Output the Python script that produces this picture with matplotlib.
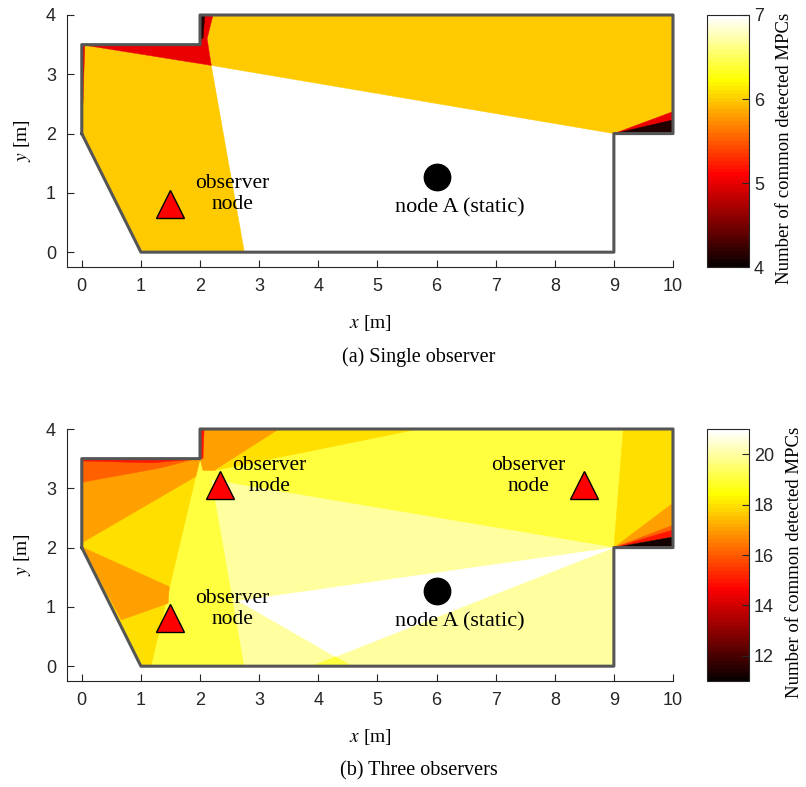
import numpy as np
import matplotlib
matplotlib.use('Agg')
import matplotlib.pyplot as plt
from matplotlib.colors import ListedColormap, Normalize
from matplotlib.collections import PolyCollection

plt.rcParams['font.family'] = ['Liberation Sans', 'DejaVu Sans']
plt.rcParams['mathtext.fontset'] = 'stix'

SERIF = ['Liberation Serif', 'DejaVu Serif']

# 房间轮廓
ROOM = [(0, 2), (0, 3.5), (2, 3.5), (2, 4), (10, 4), (10, 2), (9, 2), (9, 0), (1, 0), (0, 2)]

# (a) 单观测者：区域多边形 + 共同 MPC 数
A_VERTS = [
    [(0, 2), (0, 3.5), (2, 3.5), (2, 4), (10, 4), (10, 2), (9, 2), (9, 0), (1, 0)],
    [(0, 2), (0, 3.45), (0.05, 3.49), (2.19, 3.15), (2.75, 0), (1, 0)],
    [(2.19, 3.15), (2.12, 3.6), (2.22, 4), (10, 4), (10, 2.37), (9, 2)],
    [(0, 3.5), (2, 3.5), (2, 4), (2.22, 4), (2.12, 3.6), (2.19, 3.15), (0.05, 3.49)],
    [(0, 3.5), (0.05, 3.49), (0.02, 2.5), (0, 2.5)],
    [(2, 3.6), (2, 4), (2.08, 4), (2.05, 3.6)],
    [(9, 2), (10, 2.37), (10, 2)],
    [(9, 2), (10, 2.23), (10, 2)],
]
A_VALUES = [7, 6, 6, 5, 5, 4.1, 5, 4.1]
A_OBS_X = [1.5]
A_OBS_Y = [0.81]

# (b) 三个观测者
B_VERTS = [
    [(0, 2), (0, 3.5), (2, 3.5), (2, 4), (10, 4), (10, 2), (9, 2), (9, 0), (1, 0)],
    [(0, 2), (0, 3.5), (2, 3.5), (1.17, 0), (1, 0)],
    [(0, 2.08), (0, 3.1), (1.32, 3.34), (1.97, 3.5), (2.0, 3.5), (1.93, 3.2)],
    [(0, 3.5), (1.95, 3.5), (1.32, 3.34), (0, 3.1)],
    [(0, 3.5), (2, 3.5), (1.2, 3.43), (0, 3.46)],
    [(0, 2.01), (1.48, 1.34), (1.46, 1.06), (0.67, 0.78)],
    [(2.0, 3.5), (2.0, 4), (3.35, 4), (2.25, 3.3), (2.05, 3.3)],
    [(3.35, 4), (5.7, 4), (2.25, 3.3)],
    [(2, 3.5), (2, 4), (2.07, 4), (2.05, 3.5)],
    [(2.2, 3.14), (9, 2), (9, 0), (2.75, 0)],
    [(9, 2), (2.65, 1.1), (4.29, 0.16)],
    [(3.88, 0), (4.29, 0.16), (4.57, 0)],
    [(9, 2), (9.16, 4), (10, 4), (10, 2.75)],
    [(9, 2), (10, 2.75), (10, 2.38)],
    [(9, 2), (10, 2.38), (10, 2.3)],
    [(9, 2), (10, 2.3), (10, 2.18)],
    [(9, 2), (10, 2.18), (10, 2)],
]
B_VALUES = [19, 18, 17, 16, 15, 17, 17, 18, 15, 20, 21, 19, 18, 17, 16, 15, 11.3]
B_OBS_X = [1.5, 2.33, 8.5]
B_OBS_Y = [0.82, 3.06, 3.06]

NODE_A = (6.0, 1.26)

# MATLAB 的 hot(64)
m, n = 64, 24
r = np.r_[np.arange(1, n + 1) / n, np.ones(m - n)]
g = np.r_[np.zeros(n), np.arange(1, n + 1) / n, np.ones(m - 2 * n)]
b = np.r_[np.zeros(2 * n), np.arange(1, m - 2 * n + 1) / (m - 2 * n)]
hot = ListedColormap(np.c_[r, g, b])

W, H = 806, 787
fig = plt.figure(figsize=(W / 100, H / 100), dpi=100)


def draw_panel(top_px, verts, values, vmin, vmax, ticks, obs_x, obs_y, obs_text, caption):
    ax = fig.add_axes([67 / W, 1 - (top_px + 252) / H, 606 / W, 252 / H])
    cax = fig.add_axes([707 / W, 1 - (top_px + 252) / H, 42 / W, 252 / H])

    pc = PolyCollection(verts, array=np.array(values), cmap=hot,
                        norm=Normalize(vmin, vmax), edgecolors='face', linewidths=0.3)
    ax.add_collection(pc)

    rx, ry = zip(*ROOM)
    ax.plot(rx, ry, color='#555555', lw=2.2, clip_on=False, zorder=3)

    ax.plot(obs_x, obs_y, '^', ms=20, mfc='red', mec='black', mew=1, zorder=5, clip_on=False)
    ax.plot(*NODE_A, 'o', ms=19, color='black', zorder=5)
    ax.text(6.4, 0.74, 'node A (static)', ha='center', va='center',
            family=SERIF, fontsize=16, zorder=6)
    for tx, ty in obs_text:
        ax.text(tx, ty, 'observer\nnode', ha='center', va='center',
                family=SERIF, fontsize=15.5, linespacing=1.15, zorder=6)

    ax.set_xlim(-0.25, 10)
    ax.set_ylim(-0.25, 4)
    ax.set_xticks(range(0, 11))
    ax.set_yticks(range(0, 5))
    for s in ['top', 'right']:
        ax.spines[s].set_visible(False)
    for s in ['left', 'bottom']:
        ax.spines[s].set_color('#262626')
    ax.tick_params(direction='in', length=5, labelsize=13, colors='#262626', pad=8)
    ax.set_xlabel('$x$ [m]', family=SERIF, fontsize=14, labelpad=13)
    ax.set_ylabel('$y$ [m]', family=SERIF, fontsize=14, labelpad=9)

    cb = fig.colorbar(pc, cax=cax, ticks=ticks)
    cb.outline.set_edgecolor('#262626')
    cax.tick_params(direction='in', length=5, labelsize=13, colors='#262626')
    cb.set_label('Number of common detected MPCs', family=SERIF, fontsize=13.5, labelpad=9)
    cax.yaxis.label.set_y(0.47)

    fig.text(0.52, 1 - (top_px + 342) / H, caption, ha='center', va='center',
             family=SERIF, fontsize=14.5)


draw_panel(15, A_VERTS, A_VALUES, 4, 7, [4, 5, 6, 7], A_OBS_X, A_OBS_Y,
           [(2.55, 0.98)], '(a) Single observer')
draw_panel(429, B_VERTS, B_VALUES, 11, 21, [12, 14, 16, 18, 20], B_OBS_X, B_OBS_Y,
           [(2.55, 0.96), (3.17, 3.21), (7.55, 3.21)], '(b) Three observers')

plt.savefig('out.png', dpi=100)
